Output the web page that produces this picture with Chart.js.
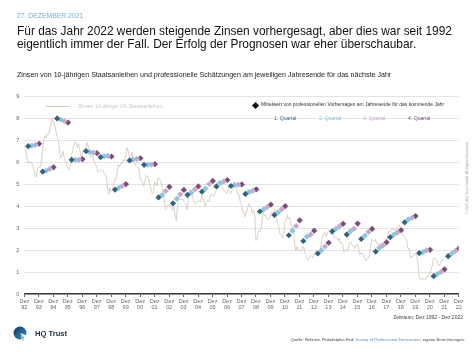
<!DOCTYPE html>
<html><head><meta charset="utf-8">
<script src="https://cdn.jsdelivr.net/npm/chart.js@4/dist/chart.umd.min.js"></script>
<style>
html,body{margin:0;padding:0;background:#fff;}
#wrap{position:relative;width:474px;height:355px;overflow:hidden;font-family:"Liberation Sans",Arial,Helvetica,sans-serif;}
#c{position:absolute;left:0;top:0;}
.t{position:absolute;white-space:nowrap;line-height:1;}
</style></head>
<body><div id="wrap">
<canvas id="c" width="474" height="355"></canvas>
<div class="t" style="left:17px;top:13px;font-size:6.8px;color:#7aaed4;">27. DEZEMBER 2021</div>
<div class="t" style="left:17px;top:24.5px;font-size:11.9px;color:#111;line-height:13.6px;">Für das Jahr 2022 werden steigende Zinsen vorhergesagt, aber dies war seit 1992<br>eigentlich immer der Fall. Der Erfolg der Prognosen war eher überschaubar.</div>
<div class="t" style="left:17px;top:71.5px;font-size:7.1px;color:#222;">Zinsen von 10-jährigen Staatsanleihen und professionelle Schätzungen am jeweiligen Jahresende für das nächste Jahr</div>
<div style="position:absolute;left:45.5px;top:105.5px;width:23px;height:1px;background:#cfc3b6;"></div>
<div class="t" style="left:78px;top:103.5px;font-size:5.2px;color:#c8c8c8;">Zinsen 10-jährige US-Staatsanleihen</div>
<div style="position:absolute;left:252.5px;top:103px;width:5px;height:5px;background:#111;transform:rotate(45deg);"></div>
<div class="t" style="left:261px;top:103.4px;font-size:4.95px;color:#333;">Mittelwert von professionellen Vorhersagen am Jahresende für das kommende Jahr</div>
<div class="t" style="left:274px;top:115.5px;font-size:5.1px;color:#3a6f93;">1. Quartal</div>
<div class="t" style="left:319px;top:115.5px;font-size:5.1px;color:#8fc4de;">2. Quartal</div>
<div class="t" style="left:363px;top:115.5px;font-size:5.1px;color:#c7a8cf;">3. Quartal</div>
<div class="t" style="left:408px;top:115.5px;font-size:5.1px;color:#7d527b;">4. Quartal</div>
<div class="t" style="left:468px;top:178px;font-size:3.6px;color:#999;transform:translate(-50%,-50%) rotate(-90deg);">© 2021 HQ Trust GmbH. All Rights Reserved.</div>
<div class="t" style="right:11px;top:314.5px;font-size:5px;color:#444;">Zeitraum: Dez 1992 - Dez 2022</div>
<svg style="position:absolute;left:13px;top:326px;" width="15" height="15" viewBox="0 0 15 15">
<defs><linearGradient id="g" x1="0" y1="0" x2="1" y2="1"><stop offset="0" stop-color="#0e3a5c"/><stop offset="1" stop-color="#3e93bf"/></linearGradient></defs>
<circle cx="7" cy="7" r="6.5" fill="url(#g)"/>
<path d="M7 7 L13 14 L15 10 Z" fill="#fff"/>
<path d="M7.5 8 L12 14.5 L9 14.5 Z" fill="#bcd9ea"/>
</svg>
<div class="t" style="left:35px;top:330px;font-size:7.6px;font-weight:bold;color:#1b2a44;">HQ Trust</div>
<div class="t" style="right:9px;top:337.5px;font-size:4.2px;color:#444;">Quelle: Refinitiv, Philadelphia Fed: <span style="color:#4f8fc4;">Survey of Professional Forecasters</span>, eigene Berechnungen.</div>
</div>
<script>
// Monthly 10-year US Treasury yields, starting Dez 1992
const yieldStartYear = 1992, yieldStartMonth = 12;
const yieldValues = [
6.77,
6.60,6.26,5.98,5.97,6.04,5.96,5.81,5.68,5.36,5.33,5.72,5.77,
5.75,5.97,6.48,6.97,7.18,7.10,7.30,7.24,7.46,7.74,7.96,7.81,
7.78,7.47,7.20,7.06,6.63,6.17,6.28,6.49,6.20,6.04,5.93,5.71,
5.65,5.81,6.27,6.51,6.74,6.91,6.87,6.64,6.83,6.53,6.20,6.30,
6.58,6.42,6.69,6.89,6.71,6.49,6.22,6.30,6.21,6.03,5.88,5.81,
5.54,5.57,5.65,5.64,5.65,5.50,5.46,5.34,4.81,4.53,4.83,4.65,
4.72,5.00,5.23,5.18,5.54,5.90,5.79,5.94,5.92,6.11,6.03,6.28,
6.66,6.52,6.26,5.99,6.44,6.10,6.05,5.83,5.80,5.74,5.72,5.24,
5.16,5.10,4.89,5.14,5.39,5.28,5.24,4.97,4.73,4.57,4.65,5.09,
5.04,4.91,5.28,5.21,5.16,4.93,4.65,4.26,3.87,3.94,4.05,4.03,
4.05,3.90,3.81,3.96,3.57,3.33,3.98,4.45,4.27,4.29,4.30,4.27,
4.15,4.08,3.83,4.35,4.72,4.73,4.50,4.28,4.13,4.10,4.19,4.23,
4.22,4.17,4.50,4.34,4.14,4.00,4.18,4.26,4.20,4.46,4.54,4.47,
4.42,4.57,4.72,4.99,5.11,5.11,5.09,4.88,4.72,4.73,4.60,4.56,
4.76,4.72,4.56,4.69,4.75,5.10,5.00,4.67,4.52,4.53,4.15,4.10,
3.74,3.74,3.51,3.68,3.88,4.10,4.01,3.89,3.69,3.81,3.53,2.42,
2.52,2.87,2.82,2.93,3.29,3.72,3.56,3.59,3.40,3.39,3.40,3.59,
3.73,3.69,3.73,3.85,3.42,3.20,3.01,2.70,2.65,2.54,2.76,3.29,
3.39,3.58,3.41,3.46,3.17,3.00,3.00,2.30,1.98,2.15,2.01,1.98,
1.97,1.97,2.17,2.05,1.80,1.62,1.53,1.68,1.72,1.75,1.65,1.72,
1.91,1.98,1.96,1.76,1.93,2.30,2.58,2.74,2.81,2.62,2.72,2.90,
2.86,2.71,2.72,2.71,2.56,2.60,2.54,2.42,2.53,2.30,2.33,2.21,
1.88,1.98,2.04,1.94,2.20,2.36,2.32,2.17,2.17,2.07,2.26,2.24,
2.09,1.78,1.89,1.81,1.81,1.64,1.50,1.56,1.63,1.76,2.14,2.49,
2.43,2.42,2.48,2.30,2.30,2.19,2.32,2.21,2.20,2.36,2.35,2.40,
2.58,2.86,2.84,2.87,2.98,2.91,2.89,2.89,3.00,3.15,3.12,2.83,
2.71,2.68,2.57,2.53,2.40,2.07,2.06,1.63,1.70,1.71,1.81,1.86,
1.76,1.50,0.87,0.66,0.67,0.73,0.62,0.65,0.68,0.79,0.87,0.93,
1.08,1.26,1.61,1.64,1.62,1.52,1.32,1.28,1.37,1.58,1.56,1.47
];
// Forecast years and quarterly mean forecasts (for year-end)
const forecastYears = [1993,1994,1995,1996,1997,1998,1999,2000,2001,2002,2003,2004,2005,2006,2007,2008,2009,2010,2011,2012,2013,2014,2015,2016,2017,2018,2019,2020,2021,2022];
const q1 = [6.72,5.56,7.98,6.10,6.49,6.22,4.74,6.07,5.87,4.39,4.12,4.51,4.65,4.89,4.91,4.55,3.75,3.59,2.67,2.41,1.84,2.85,2.70,2.50,1.93,2.58,3.26,1.86,0.81,1.72];
const q2 = [6.74,5.61,7.92,6.10,6.45,6.26,4.83,6.11,5.88,4.50,4.33,4.60,4.79,5.05,4.96,4.64,3.84,3.71,2.88,2.61,1.98,2.96,2.85,2.65,2.10,2.70,3.39,1.90,0.91,1.84];
const q3 = [6.78,5.69,7.86,6.10,6.43,6.28,4.91,6.14,5.88,4.68,4.53,4.75,5.00,5.11,4.97,4.69,3.95,3.85,3.09,2.70,2.16,3.08,2.97,2.82,2.21,2.79,3.46,1.98,1.00,1.96];
const q4 = [6.83,5.76,7.79,6.13,6.40,6.25,4.99,6.17,5.90,4.87,4.73,4.89,5.14,5.18,4.98,4.76,4.06,3.99,3.35,2.88,2.33,3.19,3.20,2.96,2.35,2.90,3.54,2.01,1.12,2.07];
const yTicks = [0,1,2,3,4,5,6,7,8,9];
const xTickMonth = 'Dez';
const xTickYears = ['92','93','94','95','96','97','98','99','00','01','02','03','04','05','06','07','08','09','10','11','12','13','14','15','16','17','18','19','20','21','22'];
const quarterLabels = ['1. Quartal','2. Quartal','3. Quartal','4. Quartal'];

const qColors = ['#33637f','#8fc4de','#c7a8cf','#7a4d77'];
const qOffsets = [0.27,0.52,0.77,1.02];

const lineData = yieldValues.map((v,i)=>({x:i/12, y:v}));
const qSeries = [q1,q2,q3,q4];
const qDatasets = qSeries.map((arr,qi)=>({
  type:'scatter', label: quarterLabels[qi],
  data: arr.map((v,i)=>({x:(forecastYears[i]-1993)+qOffsets[qi], y:v})),
  pointStyle:'rectRot', pointRadius:3.1, pointBackgroundColor:qColors[qi], pointBorderWidth:0, borderWidth:0,
  order: 1
}));

new Chart(document.getElementById('c'), {
  type:'line',
  data:{datasets:[
    {label:'Zinsen 10-jährige US-Staatsanleihen', data:lineData, borderColor:'#d2c5b6', borderWidth:0.8, pointRadius:0, tension:0, order:5},
    ...qDatasets
  ]},
  options:{
    responsive:false, animation:false, maintainAspectRatio:false,
    layout:{padding:{left:0,right:15.3,top:96,bottom:0}},
    plugins:{legend:{display:false}, tooltip:{enabled:false}, title:{display:false}},
    scales:{
      x:{type:'linear', min:0, max:30,
        afterBuildTicks:(s)=>{ s.ticks = xTickYears.map((_,i)=>({value:i})); },
        afterFit:(s)=>{ s.height = 61; },
        border:{display:true, color:'#3a3a3a', width:1.6},
        grid:{display:true, drawOnChartArea:false, drawTicks:true, tickLength:3, color:'#3a3a3a', lineWidth:0.8},
        ticks:{autoSkip:false, maxRotation:0, padding:1, color:'#666',
          font:{family:'"Liberation Sans", Arial, sans-serif', size:5.5, lineHeight:1.2},
          callback:(v,i)=>[xTickMonth, xTickYears[i]]}
      },
      y:{min:0, max:9,
        afterBuildTicks:(s)=>{ s.ticks = yTicks.map(v=>({value:v})); },
        afterFit:(s)=>{ s.width = 24.3; },
        border:{display:false},
        grid:{color:'#e3e3e3', lineWidth:1, drawTicks:false},
        ticks:{padding:5, color:'#666', font:{family:'"Liberation Sans", Arial, sans-serif', size:5.5}}
      }
    }
  }
});
</script>
</body></html>
